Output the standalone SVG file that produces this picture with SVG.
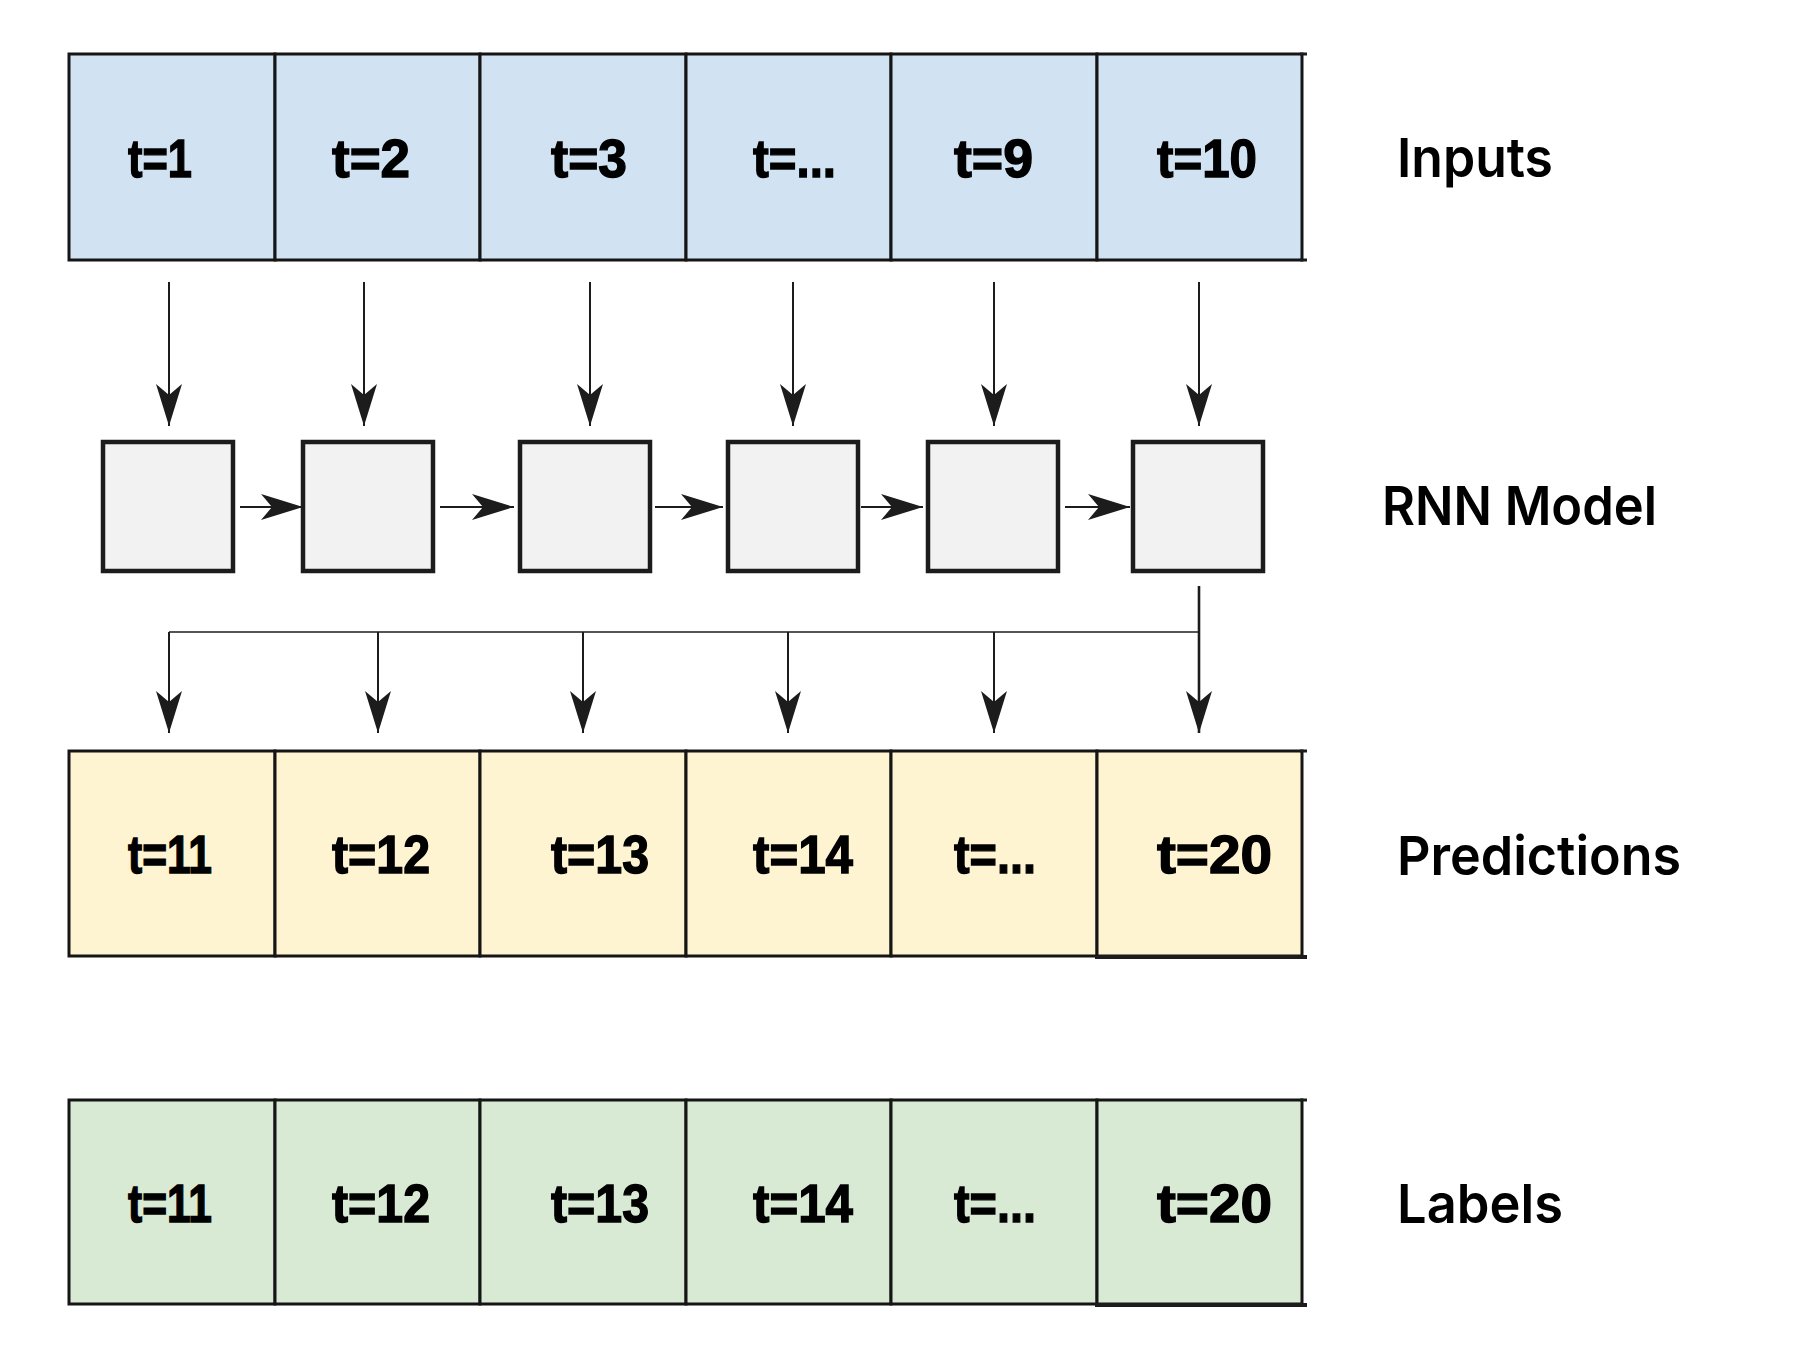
<svg xmlns="http://www.w3.org/2000/svg" width="1795" height="1350" viewBox="0 0 1795 1350">
<style>
.cell{stroke:#151515;stroke-width:3}
.in{fill:#d1e3f3}
.pr{fill:#fff4d1}
.lb{fill:#d9ead4}
.rnn{fill:#f2f2f2;stroke:#1c1c1c;stroke-width:4.5}
.t{font-family:"Liberation Sans",Arial,sans-serif;font-weight:700;font-size:54px;fill:#000;stroke:#000;stroke-width:1.4}
.side{font-family:Inter,"Noto Sans",sans-serif;font-weight:600;font-size:54px;fill:#000}
.ln{stroke:#1c1c1c;fill:none}
</style>
<defs>
<marker id="ah" viewBox="0 0 42 28" refX="42" refY="14" markerWidth="42" markerHeight="28" markerUnits="userSpaceOnUse" orient="auto">
<path d="M0,1 L42,14 L0,27 L11,14 Z" fill="#1c1c1c"/>
</marker>
</defs>
<rect width="1795" height="1350" fill="#fff"/>

<g id="inputs">
<rect class="cell in" x="69" y="54" width="206" height="206"/>
<rect class="cell in" x="275" y="54" width="205" height="206"/>
<rect class="cell in" x="480" y="54" width="206" height="206"/>
<rect class="cell in" x="686" y="54" width="205" height="206"/>
<rect class="cell in" x="891" y="54" width="206" height="206"/>
<rect class="cell in" x="1097" y="54" width="205" height="206"/>
<line class="ln" x1="1300" y1="54" x2="1307" y2="54" stroke-width="3"/>
<line class="ln" x1="1300" y1="260" x2="1307" y2="260" stroke-width="3"/>
<text class="t" x="128" y="177" textLength="64" lengthAdjust="spacingAndGlyphs">t=1</text>
<text class="t" x="332" y="177" textLength="78" lengthAdjust="spacingAndGlyphs">t=2</text>
<text class="t" x="551" y="177" textLength="76" lengthAdjust="spacingAndGlyphs">t=3</text>
<text class="t" x="753" y="177" textLength="83" lengthAdjust="spacingAndGlyphs">t=...</text>
<text class="t" x="954" y="177" textLength="79" lengthAdjust="spacingAndGlyphs">t=9</text>
<text class="t" x="1157" y="177" textLength="100" lengthAdjust="spacingAndGlyphs">t=10</text>
</g>

<g id="label-inputs"><text class="side" x="1397" y="177" textLength="156" lengthAdjust="spacingAndGlyphs">Inputs</text></g>
<g id="label-rnn"><text class="side" x="1382" y="525" textLength="275" lengthAdjust="spacingAndGlyphs">RNN Model</text></g>
<g id="label-predictions"><text class="side" x="1397" y="875" textLength="284" lengthAdjust="spacingAndGlyphs">Predictions</text></g>
<g id="label-labels"><text class="side" x="1397" y="1223" textLength="166" lengthAdjust="spacingAndGlyphs">Labels</text></g>

<g id="rnn1"><rect class="rnn" x="103" y="442" width="130" height="129"/></g>
<g id="rnn2"><rect class="rnn" x="303" y="442" width="130" height="129"/></g>
<g id="rnn3"><rect class="rnn" x="520" y="442" width="130" height="129"/></g>
<g id="rnn4"><rect class="rnn" x="728" y="442" width="130" height="129"/></g>
<g id="rnn5"><rect class="rnn" x="928" y="442" width="130" height="129"/></g>
<g id="rnn6"><rect class="rnn" x="1133" y="442" width="130" height="129"/></g>

<g id="predictions">
<rect class="cell pr" x="69" y="751" width="206" height="205"/>
<rect class="cell pr" x="275" y="751" width="205" height="205"/>
<rect class="cell pr" x="480" y="751" width="206" height="205"/>
<rect class="cell pr" x="686" y="751" width="205" height="205"/>
<rect class="cell pr" x="891" y="751" width="206" height="205"/>
<rect class="cell pr" x="1097" y="751" width="205" height="205"/>
<line class="ln" x1="1300" y1="751" x2="1307" y2="751" stroke-width="3"/>
<line class="ln" x1="1095" y1="957" x2="1307" y2="957" stroke-width="4"/>
<text class="t" x="128" y="873" textLength="84" lengthAdjust="spacingAndGlyphs">t=11</text>
<text class="t" x="332" y="873" textLength="98" lengthAdjust="spacingAndGlyphs">t=12</text>
<text class="t" x="551" y="873" textLength="98" lengthAdjust="spacingAndGlyphs">t=13</text>
<text class="t" x="753" y="873" textLength="100" lengthAdjust="spacingAndGlyphs">t=14</text>
<text class="t" x="954" y="873" textLength="82" lengthAdjust="spacingAndGlyphs">t=...</text>
<text class="t" x="1157" y="873" textLength="115" lengthAdjust="spacingAndGlyphs">t=20</text>
</g>

<g id="labels">
<rect class="cell lb" x="69" y="1100" width="206" height="204"/>
<rect class="cell lb" x="275" y="1100" width="205" height="204"/>
<rect class="cell lb" x="480" y="1100" width="206" height="204"/>
<rect class="cell lb" x="686" y="1100" width="205" height="204"/>
<rect class="cell lb" x="891" y="1100" width="206" height="204"/>
<rect class="cell lb" x="1097" y="1100" width="205" height="204"/>
<line class="ln" x1="1300" y1="1100" x2="1307" y2="1100" stroke-width="3"/>
<line class="ln" x1="1095" y1="1305" x2="1307" y2="1305" stroke-width="4"/>
<text class="t" x="128" y="1222" textLength="84" lengthAdjust="spacingAndGlyphs">t=11</text>
<text class="t" x="332" y="1222" textLength="98" lengthAdjust="spacingAndGlyphs">t=12</text>
<text class="t" x="551" y="1222" textLength="98" lengthAdjust="spacingAndGlyphs">t=13</text>
<text class="t" x="753" y="1222" textLength="100" lengthAdjust="spacingAndGlyphs">t=14</text>
<text class="t" x="954" y="1222" textLength="82" lengthAdjust="spacingAndGlyphs">t=...</text>
<text class="t" x="1157" y="1222" textLength="115" lengthAdjust="spacingAndGlyphs">t=20</text>
</g>

<g id="connectors" class="ln" stroke-width="2" marker-end="url(#ah)">
<line x1="169" y1="282" x2="169" y2="426"/>
<line x1="364" y1="282" x2="364" y2="426"/>
<line x1="590" y1="282" x2="590" y2="426"/>
<line x1="793" y1="282" x2="793" y2="426"/>
<line x1="994" y1="282" x2="994" y2="426"/>
<line x1="1199" y1="282" x2="1199" y2="426"/>

<line x1="240" y1="507" x2="303" y2="507"/>
<line x1="440" y1="507" x2="514" y2="507"/>
<line x1="655" y1="507" x2="723" y2="507"/>
<line x1="861" y1="507" x2="923" y2="507"/>
<line x1="1065" y1="507" x2="1130" y2="507"/>

<line x1="1199" y1="632" x2="169" y2="632" marker-end="none" stroke-width="1.6"/>
<line x1="169" y1="632" x2="169" y2="733"/>
<line x1="378" y1="632" x2="378" y2="733"/>
<line x1="583" y1="632" x2="583" y2="733"/>
<line x1="788" y1="632" x2="788" y2="733"/>
<line x1="994" y1="632" x2="994" y2="733"/>
<line x1="1199" y1="586" x2="1199" y2="733" stroke-width="2.6"/>
</g>
</svg>
